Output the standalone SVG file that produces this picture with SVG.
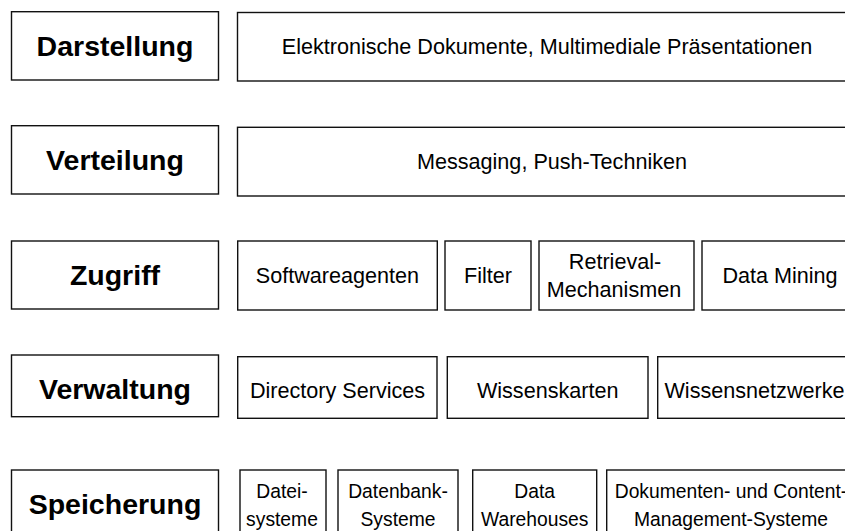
<svg xmlns="http://www.w3.org/2000/svg" width="845" height="531" viewBox="0 0 845 531">
<style>
rect{fill:#fff;stroke:#111;stroke-width:1.4}
text{font-family:"Liberation Sans",Arial,sans-serif;fill:#000;text-anchor:middle}
.h{font-size:28.5px;font-weight:bold}
.t{font-size:21.6px}
.s{font-size:19.3px}
</style>
<rect x="0" y="0" width="845" height="531" style="stroke:none"/>
<g id="darstellung"><rect x="11.5" y="11.7" width="207" height="68.3"/><text class="h" x="115" y="55.7">Darstellung</text></g>
<g id="darstellung-inhalt"><rect x="237.5" y="12.5" width="625" height="68.5"/><text class="t" x="547" y="54">Elektronische Dokumente, Multimediale Präsentationen</text></g>
<g id="verteilung"><rect x="11.5" y="125.7" width="207" height="68.3"/><text class="h" x="115" y="170">Verteilung</text></g>
<g id="verteilung-inhalt"><rect x="237.5" y="127.3" width="625" height="68.7"/><text class="t" x="552" y="169">Messaging, Push-Techniken</text></g>
<g id="zugriff"><rect x="11.5" y="241" width="207" height="68"/><text class="h" x="115" y="285">Zugriff</text></g>
<g id="softwareagenten"><rect x="237.7" y="241" width="199.6" height="69"/><text class="t" x="337.5" y="283">Softwareagenten</text></g>
<g id="filter"><rect x="445" y="241" width="86" height="69"/><text class="t" x="488" y="283">Filter</text></g>
<g id="retrieval"><rect x="539" y="241" width="155" height="69"/><text class="t" x="615" y="269">Retrieval-</text><text class="t" x="614" y="297">Mechanismen</text></g>
<g id="datamining"><rect x="702" y="241" width="156" height="69"/><text class="t" x="780" y="283">Data Mining</text></g>
<g id="verwaltung"><rect x="11.5" y="355" width="207" height="61.7"/><text class="h" x="115" y="399">Verwaltung</text></g>
<g id="directory"><rect x="237.7" y="356.7" width="199.3" height="61.6"/><text class="t" x="337.5" y="398">Directory Services</text></g>
<g id="wissenskarten"><rect x="447.3" y="356.7" width="200.7" height="61.6"/><text class="t" x="547.7" y="398">Wissenskarten</text></g>
<g id="wissensnetzwerke"><rect x="657.7" y="356.7" width="192.3" height="61.6"/><text class="t" x="754.5" y="398">Wissensnetzwerke</text></g>
<g id="speicherung"><rect x="11.5" y="470" width="207" height="68"/><text class="h" x="115" y="514">Speicherung</text></g>
<g id="dateisysteme"><rect x="240" y="470" width="86" height="68"/><text class="s" x="282" y="497.7">Datei-</text><text class="s" x="282" y="525.7">systeme</text></g>
<g id="datenbank"><rect x="338" y="470" width="120" height="68"/><text class="s" x="398" y="497.7">Datenbank-</text><text class="s" x="398" y="525.7">Systeme</text></g>
<g id="datawarehouses"><rect x="472.7" y="470" width="124" height="68"/><text class="s" x="534.7" y="497.7">Data</text><text class="s" x="534.7" y="525.7">Warehouses</text></g>
<g id="dms"><rect x="606.7" y="470" width="248.3" height="68"/><text class="s" x="731" y="497.7">Dokumenten- und Content-</text><text class="s" x="731" y="525.7">Management-Systeme</text></g>
</svg>
